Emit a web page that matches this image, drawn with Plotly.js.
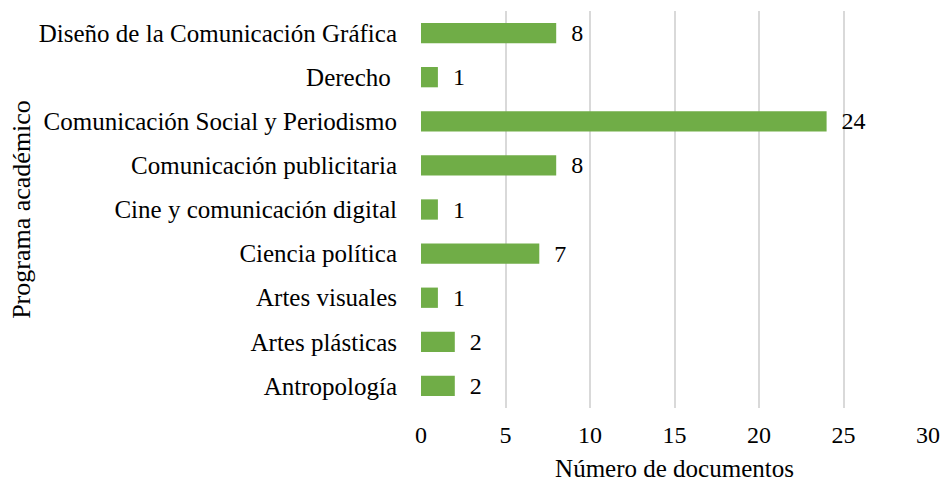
<!DOCTYPE html>
<html>
<head>
<meta charset="utf-8">
<script src="https://cdn.plot.ly/plotly-3.0.1.min.js"></script>
<style>html,body{margin:0;padding:0;background:#fff;}#chart{width:943px;height:486px;}</style>
</head>
<body>
<div id="chart"></div>
<script>
const programas = [
  "Antropología",
  "Artes plásticas",
  "Artes visuales",
  "Ciencia política",
  "Cine y comunicación digital",
  "Comunicación publicitaria",
  "Comunicación Social y Periodismo",
  "Derecho ",
  "Diseño de la Comunicación Gráfica"
];
const documentos = [2, 2, 1, 7, 1, 8, 24, 1, 8];
const xTicks = [0, 5, 10, 15, 20, 25, 30];

const font = "Liberation Serif";
const fs = 25;

const trace = {
  type: 'bar',
  orientation: 'h',
  y: programas,
  x: documentos,
  width: 0.46,
  marker: {color: '#70AD47', line: {width: 0}},
  text: documentos.map(v => '  ' + v),
  textposition: 'outside',
  constraintext: 'none',
  cliponaxis: false,
  textfont: {family: font, size: 24, color: '#000'},
  hoverinfo: 'none'
};

const layout = {
  width: 943, height: 486,
  margin: {l: 421, r: 15, t: 11, b: 78},
  paper_bgcolor: '#fff', plot_bgcolor: '#fff',
  showlegend: false,
  font: {family: font, size: fs, color: '#000'},
  xaxis: {
    range: [0, 30],
    tickvals: xTicks,
    ticktext: xTicks.map(String),
    showgrid: true, gridcolor: '#d9d9d9', gridwidth: 2,
    zeroline: false, showline: false,
    ticks: 'outside', ticklen: 5, tickcolor: 'rgba(0,0,0,0)',
    tickfont: {family: font, size: 24, color: '#000'},
    title: {text: 'Número de documentos', font: {family: font, size: fs, color: '#000'}, standoff: 12},
    fixedrange: true
  },
  yaxis: {
    type: 'category',
    categoryorder: 'array', categoryarray: programas,
    showgrid: false, zeroline: false, showline: false,
    ticks: 'outside', ticklen: 18, tickcolor: 'rgba(0,0,0,0)',
    tickfont: {family: font, size: fs, color: '#000'},
    title: {text: 'Programa académico', font: {family: font, size: 26, color: '#000'}, standoff: 0},
    automargin: false,
    fixedrange: true
  },
  bargap: 0.5
};

Plotly.newPlot('chart', [trace], layout, {displayModeBar: false, staticPlot: true});
</script>
</body>
</html>
